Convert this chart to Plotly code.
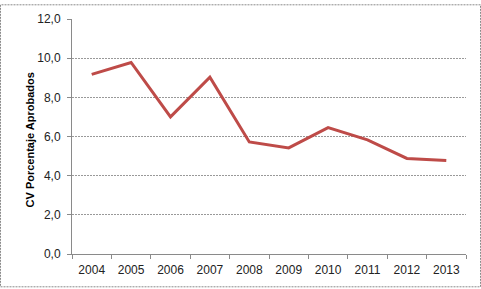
import plotly.graph_objects as go

years = ["2004", "2005", "2006", "2007", "2008", "2009", "2010", "2011", "2012", "2013"]
values = [9.17, 9.78, 7.0, 9.03, 5.72, 5.42, 6.45, 5.83, 4.88, 4.78]
y_ticks = [0, 2, 4, 6, 8, 10, 12]
y_tick_labels = ["0,0", "2,0", "4,0", "6,0", "8,0", "10,0", "12,0"]
y_title = "CV Porcentaje Aprobados"

W, H = 481, 289
L, R, T, B = 72, 15, 15, 34
pw, ph = W - L - R, H - T - B

fig = go.Figure()
fig.add_trace(go.Scatter(x=years, y=values, mode="lines",
                         line=dict(color="#BE4B48", width=3), showlegend=False,
                         hoverinfo="skip"))

fig.update_layout(
    width=W, height=H,
    margin=dict(l=L, r=R, t=T, b=B, pad=0),
    paper_bgcolor="white", plot_bgcolor="white",
    font=dict(family="Liberation Sans, Arial, sans-serif", size=12, color="#222"),
    xaxis=dict(type="category", range=[-0.5, len(years) - 0.5],
               showgrid=False, showline=True, linecolor="#8a8a8a",
               linewidth=1, ticks="outside", tickson="boundaries", ticklen=4,
               tickcolor="#8a8a8a", tickfont=dict(size=12), ticklabelstandoff=5,
               fixedrange=True),
    yaxis=dict(range=[0, 12], tickvals=y_ticks, ticktext=y_tick_labels,
               showgrid=True, gridcolor="#999999", griddash="2px,1px", gridwidth=1,
               showline=True, linecolor="#8a8a8a", linewidth=1, zeroline=False,
               ticks="outside", ticklen=4, tickcolor="#8a8a8a",
               tickfont=dict(size=12), ticklabelstandoff=4, fixedrange=True),
)

fig.add_annotation(text="<b>" + y_title + "</b>", textangle=-90,
                   xref="paper", yref="paper",
                   x=(30 - L) / pw, y=(T + ph - 139) / ph,
                   xanchor="center", yanchor="middle", showarrow=False,
                   font=dict(size=11, color="#000"))

fig.add_shape(type="rect", xref="paper", yref="paper",
              x0=(0.5 - L) / pw, x1=(W - 0.5 - L) / pw,
              y0=-(H - 0.5 - T - ph) / ph, y1=1 + (T - 0.5) / ph,
              line=dict(color="#8a8a8a", width=1, dash="2px,1px"), layer="above")

fig.write_html("out.html", config={"displayModeBar": False},
               post_script="document.body.style.margin='0';")
